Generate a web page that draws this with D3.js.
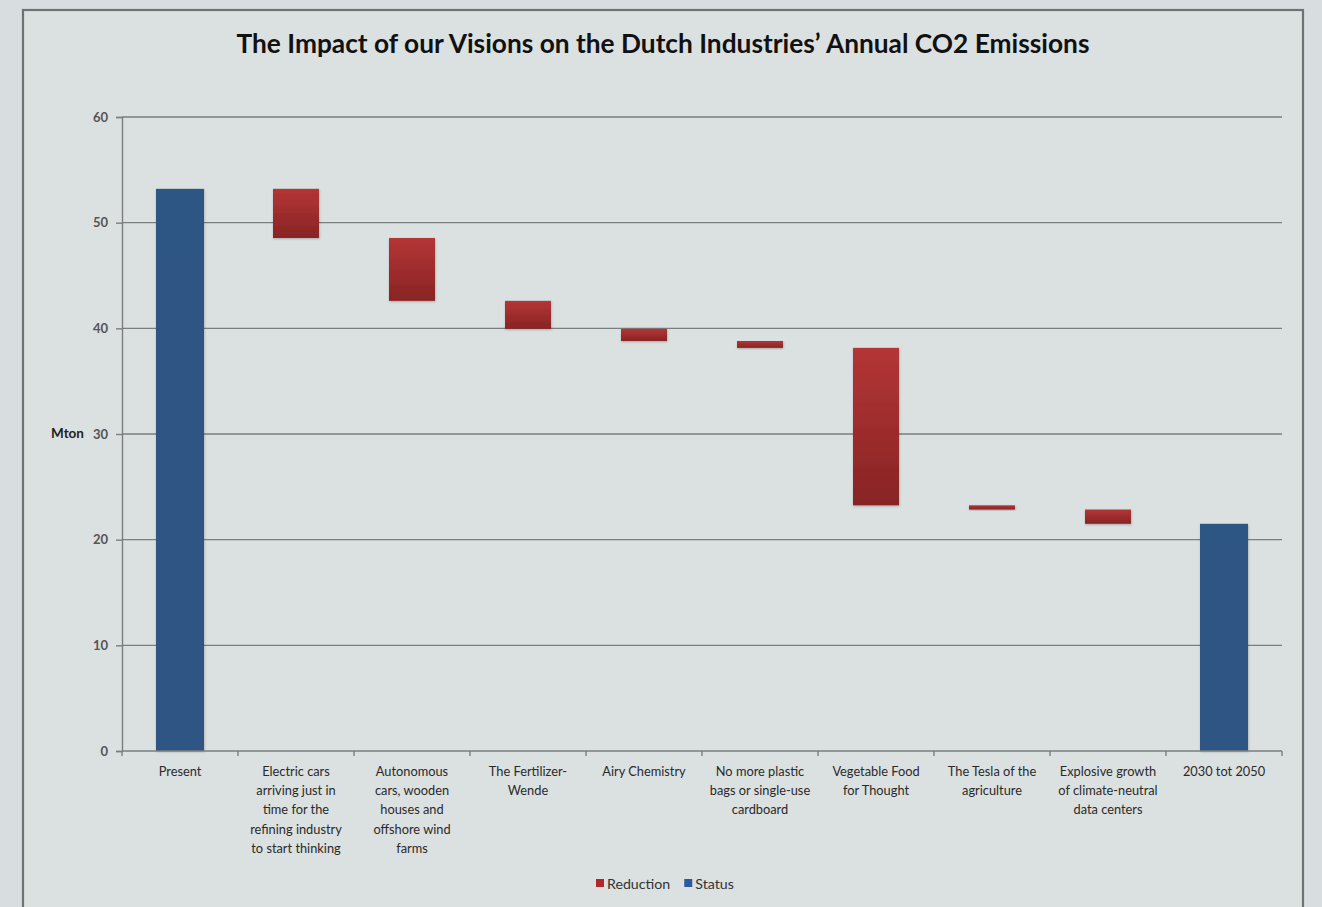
<!DOCTYPE html>
<html><head><meta charset="utf-8">
<script src="https://cdn.jsdelivr.net/npm/d3@7"></script>
<style>
html,body{margin:0;padding:0;background:#d9dedf;}
svg{display:block;}
</style></head>
<body>
<svg id="chart" width="1322" height="907"></svg>
<script>
const title = "The Impact of our Visions on the Dutch Industries\u2019 Annual CO2 Emissions";
const categories = [
  ["Present"],
  ["Electric cars","arriving just in","time for the","refining industry","to start thinking"],
  ["Autonomous","cars, wooden","houses and","offshore wind","farms"],
  ["The Fertilizer-","Wende"],
  ["Airy Chemistry"],
  ["No more plastic","bags or single-use","cardboard"],
  ["Vegetable Food","for Thought"],
  ["The Tesla of the","agriculture"],
  ["Explosive growth","of climate-neutral","data centers"],
  ["2030 tot 2050"]
];
const kinds = ["Status","Reduction","Reduction","Reduction","Reduction","Reduction","Reduction","Reduction","Reduction","Status"];
const startValue = 53.2;
const reductions = [4.65, 5.95, 2.65, 1.15, 0.65, 14.9, 0.4, 1.35];
const endValue = 21.5;
const yTicks = [0,10,20,30,40,50,60];
const legendItems = ["Reduction","Status"];
const yLabel = "Mton";

(function(){
// build waterfall table
const rows = [];
let level = startValue;
rows.push({i:0, kind:"Status", lo:0, hi:startValue});
reductions.forEach((r,k)=>{ rows.push({i:k+1, kind:"Reduction", lo:level-r, hi:level}); level -= r; });
rows.push({i:9, kind:"Status", lo:0, hi:endValue});

const svg = d3.select("#chart");
const defs = svg.append("defs");
const gr = defs.append("linearGradient").attr("id","redg").attr("x1",0).attr("y1",0).attr("x2",0).attr("y2",1);
gr.append("stop").attr("offset","0%").attr("stop-color","#b43535");
gr.append("stop").attr("offset","100%").attr("stop-color","#882424");
const gb = defs.append("linearGradient").attr("id","blueg").attr("x1",0).attr("y1",0).attr("x2",0).attr("y2",1);
gb.append("stop").attr("offset","0%").attr("stop-color","#2f5685");
gb.append("stop").attr("offset","100%").attr("stop-color","#2d5483");
const flt = defs.append("filter").attr("id","sh").attr("x","-20%").attr("y","-20%").attr("width","140%").attr("height","140%");
flt.append("feDropShadow").attr("dx",0.5).attr("dy",1).attr("stdDeviation",1).attr("flood-color","#000").attr("flood-opacity",0.25);

// background panel
svg.append("rect").attr("x",0).attr("y",0).attr("width",1322).attr("height",907).attr("fill","#d8dddf");
svg.append("rect").attr("x",23).attr("y",10).attr("width",1280).attr("height",920)
  .attr("fill","#dbe0e1").attr("stroke","#6e7273").attr("stroke-width",2.2);

const font = "Lato, 'Open Sans', sans-serif";
svg.append("text").attr("x",663).attr("y",53).attr("text-anchor","middle")
  .attr("font-family",font).attr("font-weight",700).attr("font-size",26).attr("fill","#111")
  .attr("textLength",853).attr("lengthAdjust","spacingAndGlyphs")
  .text(title);

const pL = 122, pR = 1282, pT = 117, pB = 751;
const xb = d3.scaleBand().domain(d3.range(categories.length)).range([pL,pR]);
const y = d3.scaleLinear().domain([0,60]).range([pB,pT]);

// gridlines
svg.append("g").selectAll("line").data(yTicks.filter(t=>t>0)).join("line")
  .attr("x1",pL).attr("x2",pR).attr("y1",d=>y(d)).attr("y2",d=>y(d))
  .attr("stroke","#7a7e7f").attr("stroke-width",1.4);

// y axis
const ya = svg.append("g").attr("transform",`translate(${pL},0)`)
  .call(d3.axisLeft(y).tickValues(yTicks).tickSize(6).tickPadding(8));
ya.select(".domain").attr("stroke","#7a7e7f").attr("stroke-width",1.4);
ya.selectAll(".tick line").attr("stroke","#7a7e7f").attr("stroke-width",1.4);
ya.selectAll(".tick text").attr("font-family",font).attr("font-weight",700).attr("font-size",13).attr("fill","#555");

svg.append("text").attr("x",84).attr("y",y(30)+4).attr("text-anchor","end")
  .attr("font-family",font).attr("font-weight",700).attr("font-size",13.5).attr("fill","#222").text(yLabel);

// bars
svg.append("g").selectAll("rect").data(rows).join("rect")
  .attr("x",d=>xb(d.i)+xb.bandwidth()/2-(d.kind==="Status"?24:23))
  .attr("width",d=>d.kind==="Status"?48:46)
  .attr("y",d=>y(d.hi)).attr("height",d=>Math.max(1,y(d.lo)-y(d.hi)))
  .attr("fill",d=>d.kind==="Status"?"url(#blueg)":"url(#redg)")
  .attr("filter","url(#sh)");

// x axis
const xa = svg.append("g").attr("transform",`translate(0,${pB})`);
xa.append("line").attr("x1",pL).attr("x2",pR).attr("stroke","#7a7e7f").attr("stroke-width",1.6);
const bounds = d3.range(categories.length+1).map(i=> i<categories.length ? xb(i) : pR);
xa.selectAll("line.tk").data(bounds).join("line").attr("class","tk")
  .attr("x1",d=>d).attr("x2",d=>d).attr("y1",0).attr("y2",5).attr("stroke","#7a7e7f").attr("stroke-width",1.4);
const lab = xa.selectAll("text.lab").data(categories).join("text").attr("class","lab")
  .attr("text-anchor","middle").attr("font-family",font).attr("font-size",12.8).attr("fill","#2a2a2a");
lab.each(function(lines,i){
  const t = d3.select(this);
  lines.forEach((ln,k)=>{
    t.append("tspan").attr("x",xb(i)+xb.bandwidth()/2).attr("y",25+k*19.2).text(ln);
  });
});

// legend
const lg = svg.append("g").attr("transform","translate(596,885)");
const lgColors = {"Reduction":"#b3262a","Status":"#2c5aa0"};
let lx = 0;
legendItems.forEach(name=>{
  lg.append("rect").attr("x",lx).attr("y",-6).attr("width",8).attr("height",8).attr("fill",lgColors[name]);
  const t = lg.append("text").attr("x",lx+11).attr("y",4).attr("font-family",font).attr("font-size",14.2).attr("fill","#333").text(name);
  lx += 11 + t.node().getComputedTextLength() + 14;
});
})();
</script>
</body></html>
